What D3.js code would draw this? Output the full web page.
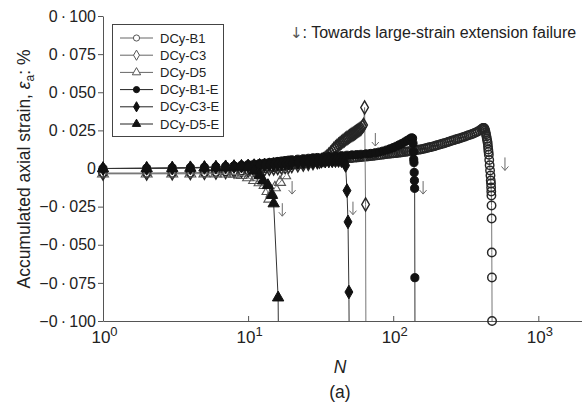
<!DOCTYPE html>
<html>
<head>
<meta charset="utf-8">
<script src="https://cdn.jsdelivr.net/npm/d3@7"></script>
<style>
  body { margin: 0; background: #fff; }
  svg { display: block; font-family: "Liberation Sans", Arial, sans-serif; }
</style>
</head>
<body>
<svg id="chart" width="582" height="408"></svg>
<script>
// each series: [N, accumulated axial strain in %]
const b1 = [
  [1,-0.0030],[2,-0.0030],[3,-0.0029],[4,-0.0028],[5,-0.0026],[6,-0.0023],[7,-0.0020],[8,-0.0016],
  [9,-0.0013],[10,-0.0010],[11,-0.0006],[12,-0.0003],[13,0.0001],[14,0.0004],[15,0.0008],[16,0.0011],
  [17,0.0015],[18,0.0018],[19,0.0022],[20,0.0025],[21,0.0027],[22,0.0029],[23,0.0031],[24,0.0033],[25,0.0035],
  [26,0.0037],[27,0.0039],[28,0.0041],[29,0.0043],[30,0.0045],[31,0.0046],[32,0.0047],[33,0.0049],[34,0.0050],
  [35,0.0051],[36,0.0052],[37,0.0054],[38,0.0055],[39,0.0057],[40,0.0058],[41,0.0059],[42,0.0060],[43,0.0061],
  [44,0.0062],[45,0.0063],[46,0.0064],[47,0.0065],[48,0.0066],[50,0.0068],[52,0.0069],[54,0.0071],[56,0.0072],
  [58,0.0074],[60,0.0075],[62,0.0076],[64,0.0078],[66,0.0079],[68,0.0080],[70,0.0082],[72,0.0083],[74,0.0084],
  [77,0.0086],[80,0.0088],[83,0.0090],[86,0.0092],[89,0.0094],[92,0.0096],[95,0.0097],[98,0.0099],
  [100,0.0100],[103,0.0101],[106,0.0102],[109,0.0104],[112,0.0105],[115,0.0107],[118,0.0108],[122,0.0110],
  [125,0.0111],[129,0.0113],[133,0.0115],[137,0.0117],[141,0.0119],[145,0.0121],[149,0.0123],[154,0.0125],
  [158,0.0127],[163,0.0130],[168,0.0133],[173,0.0136],[178,0.0139],[183,0.0141],[189,0.0145],[194,0.0148],
  [200,0.0152],[206,0.0155],[212,0.0159],[218,0.0162],[225,0.0166],[232,0.0170],[239,0.0174],[246,0.0178],
  [253,0.0182],[261,0.0186],[269,0.0190],[277,0.0193],[285,0.0197],[294,0.0201],[302,0.0205],[311,0.0209],
  [321,0.0214],[330,0.0218],[340,0.0222],[350,0.0226],[361,0.0231],[372,0.0237],[383,0.0243],[394,0.0250],
  [405,0.0257],[412,0.0263],[417,0.0266],[421,0.0266],[424,0.0264],[427,0.0258],[430,0.0250],[433,0.0238],
  [436,0.0225],[439,0.0210],[442,0.0195],[445,0.0180],[448,0.0165],[450,0.0145],[452,0.0125],[454,0.0108],
  [456,0.0090],[459,0.0055],[462,0.0022],[465,-0.0013],[468,-0.0046],[470,-0.0079],[472,-0.0098],
  [473,-0.0125],[474,-0.0151],[475,-0.0177],[476,-0.0243],[477,-0.0328],[478,-0.0551],[479,-0.0715],[480,-0.1000]
];
const c3 = [
  [1,-0.0032],[2,-0.0032],[3,-0.0031],[4,-0.0030],[5,-0.0028],[6,-0.0026],[7,-0.0023],[8,-0.0020],
  [9,-0.0017],[10,-0.0014],[11,-0.0011],[12,-0.0008],[13,-0.0005],[14,-0.0002],[15,0.0001],[16,0.0004],
  [17,0.0007],[18,0.0010],[19,0.0013],[20,0.0016],[22,0.0021],[24,0.0026],[26,0.0031],[28,0.0036],
  [30,0.0042],[31,0.0046],[32,0.0052],[33,0.0059],[34,0.0068],[35,0.0078],[36,0.0090],[37,0.0102],[38,0.0115],
  [39,0.0127],[40,0.0138],[41,0.0147],[42,0.0156],[43,0.0164],[44,0.0172],[45,0.0179],[46,0.0186],[47,0.0193],
  [48,0.0199],[49,0.0205],[50,0.0211],[51,0.0217],[52,0.0222],[53,0.0227],[54,0.0232],[55,0.0237],[56,0.0242],
  [57,0.0247],[58,0.0252],[59,0.0257],[60,0.0262],[61.5,0.0275],[62.5,0.0285],[63.5,0.0400],[64.5,-0.0236],[65,-0.1500]
];
const d5 = [
  [1,-0.0035],[2,-0.0035],[3,-0.0035],[4,-0.0035],[5,-0.0034],[6,-0.0034],[7,-0.0035],[8,-0.0037],
  [9,-0.0045],[10,-0.0060],[11,-0.0078],[12,-0.0092],[13,-0.0110],[13.6,-0.0150],[14,-0.0200],
  [14.5,-0.0165],[15.3,-0.0125],[16.6,-0.0090],[18,-0.0046]
];
const b1e = [
  [1,0.0000],[2,0.0002],[3,0.0004],[4,0.0006],[5,0.0008],[6,0.0011],[7,0.0014],[8,0.0017],
  [9,0.0021],[10,0.0025],[11,0.0028],[12,0.0032],[13,0.0035],[14,0.0039],[15,0.0042],[16,0.0046],
  [17,0.0049],[18,0.0052],[19,0.0055],[20,0.0057],[22,0.0061],[24,0.0064],[26,0.0067],[28,0.0070],
  [30,0.0072],[33,0.0075],[36,0.0078],[40,0.0081],[44,0.0084],[48,0.0087],[52,0.0089],[56,0.0091],
  [60,0.0093],[65,0.0096],[70,0.0099],[75,0.0103],[80,0.0108],[85,0.0114],[90,0.0121],[95,0.0129],
  [100,0.0137],[105,0.0146],[110,0.0155],[115,0.0164],[120,0.0174],[125,0.0184],[130,0.0194],[134,0.0201],
  [136,0.0198],[137,0.0165],[138,0.0110],[138.5,0.0060],[139,0.0039],[139.5,-0.0026],[140,-0.0079],
  [140.5,-0.0130],[141,-0.0716],[141.5,-0.1500]
];
const c3e = [
  [1,0.0000],[2,0.0001],[3,0.0003],[4,0.0005],[5,0.0007],[6,0.0009],[7,0.0011],[8,0.0013],
  [9,0.0015],[10,0.0017],[11,0.0019],[12,0.0021],[13,0.0023],[14,0.0025],[15,0.0027],[16,0.0029],
  [17,0.0031],[18,0.0032],[19,0.0034],[20,0.0035],[22,0.0038],[24,0.0040],[26,0.0042],[28,0.0044],
  [30,0.0046],[32,0.0047],[34,0.0048],[36,0.0049],[38,0.0050],[40,0.0051],[42,0.0052],[44,0.0051],
  [46,0.0045],[47,0.0020],[48,-0.0145],[48.8,-0.0350],[49.5,-0.0810],[50,-0.1500]
];
const d5e = [
  [1,0.0000],[2,0.0001],[3,0.0002],[4,0.0003],[5,0.0005],[6,0.0007],[7,0.0009],[8,0.0011],
  [9,0.0012],[10,0.0008],[11,-0.0015],[12,-0.0045],[12.7,-0.0080],[13.7,-0.0110],[14.6,-0.0175],
  [15,-0.0230],[16.1,-0.0847],[16.3,-0.1500]
];

const seriesNames = ["DCy-B1", "DCy-C3", "DCy-D5", "DCy-B1-E", "DCy-C3-E", "DCy-D5-E"];
const seriesData = [b1, c3, d5, b1e, c3e, d5e];

// arrows marking the large-strain extension failure of each test
const arrowMarks = [[589, 0.0030], [75.3, 0.0190], [20.1, -0.0125], [160.7, -0.0125], [52.8, -0.0260], [17.2, -0.0270]];

const yTicks = [0.1, 0.075, 0.05, 0.025, 0, -0.025, -0.05, -0.075, -0.1];
const yTickLabels = ["0·100", "0·075", "0·050", "0·025", "0", "\u22120·025", "\u22120·050", "\u22120·075", "\u22120·100"];
const xTicks = [1, 10, 100, 1000];
const xTickExponents = ["0", "1", "2", "3"];

const svg = d3.select("#chart");
const x = d3.scaleLog().domain([1, 2000]).range([103, 582]);
const y = d3.scaleLinear().domain([-0.1, 0.1]).range([321, 16]);

const symbols = [d3.symbolCircle, d3.symbolDiamond, d3.symbolTriangle, d3.symbolCircle, d3.symbolDiamond, d3.symbolTriangle];
const symbolSizes = [56, 50, 52, 52, 54, 56];
const markerStroke = ["#262626", "#262626", "#555", "#111", "#111", "#111"];
const markerStrokeWidth = [1.45, 1.45, 1.1, 1, 1, 1];
const isOpen = i => i < 3;

svg.append("clipPath").attr("id", "plotclip")
  .append("rect").attr("x", 103).attr("y", 0).attr("width", 479).attr("height", 321);

// axes
const yAxis = svg.append("g")
  .attr("transform", "translate(103,0)")
  .call(d3.axisLeft(y).tickValues(yTicks).tickSize(5).tickSizeOuter(0).tickPadding(2)
    .tickFormat((d, i) => yTickLabels[i].replace("·", "\u2009·\u2009")));
yAxis.selectAll("text").attr("font-size", 16).attr("fill", "#222").attr("font-family", null);

const xAxis = svg.append("g")
  .attr("transform", "translate(0,321)")
  .call(d3.axisBottom(x).tickValues(xTicks).tickSize(-5).tickSizeOuter(0).tickFormat(""));
xAxis.selectAll(".tick").each(function(d, i) {
  const t = d3.select(this).append("text")
    .attr("x", 1).attr("y", 22).attr("fill", "#222").attr("font-size", 17)
    .attr("text-anchor", "middle").attr("font-family", null);
  t.append("tspan").text("10");
  t.append("tspan").attr("dy", -7).attr("font-size", 13).text(xTickExponents[i]);
});
svg.selectAll(".domain, .tick line").attr("stroke", "#555");

// series: open markers pile up into a solid band where cycles are dense
const line = d3.line().x(d => x(d[0])).y(d => y(d[1]));
const plot = svg.append("g");
seriesData.forEach((data, i) => {
  plot.append("path")
    .attr("clip-path", "url(#plotclip)")
    .attr("d", line(data))
    .attr("fill", "none")
    .attr("stroke", isOpen(i) ? "#777" : "#333")
    .attr("stroke-width", 1);
  plot.selectAll(null)
    .data(data.filter(d => d[1] >= -0.1 && d[1] <= 0.1))
    .join("path")
    .attr("transform", d => `translate(${x(d[0])},${y(d[1])})`)
    .attr("d", d3.symbol(symbols[i], symbolSizes[i]))
    .attr("fill", isOpen(i) ? "none" : "#111")
    .attr("stroke", markerStroke[i])
    .attr("stroke-width", markerStrokeWidth[i]);
});

// failure arrows
const arrows = svg.append("g").attr("stroke", "#6a6a6a").attr("fill", "none").attr("stroke-width", 1);
arrows.selectAll("path")
  .data(arrowMarks)
  .join("path")
  .attr("transform", d => `translate(${x(d[0])},${y(d[1])})`)
  .attr("d", "M0,-6.5V6.5M-3.5,2.5L0,6.5L3.5,2.5");

const note = svg.append("text")
  .attr("x", 290).attr("y", 38)
  .attr("font-size", 16).attr("fill", "#222");
note.append("tspan").attr("font-family", "DejaVu Sans").attr("font-size", 15).attr("fill", "#555").text("\u2193");
note.append("tspan").text(": Towards large-strain extension failure");

// legend
const legend = svg.append("g");
legend.append("rect")
  .attr("x", 112.5).attr("y", 24.5).attr("width", 111).attr("height", 112)
  .attr("fill", "#fff").attr("stroke", "#444");
seriesNames.forEach((name, i) => {
  const ly = 38 + i * 17.2;
  legend.append("line").attr("x1", 120).attr("x2", 153).attr("y1", ly).attr("y2", ly)
    .attr("stroke", isOpen(i) ? "#666" : "#222");
  legend.append("path")
    .attr("transform", `translate(136.5,${ly})`)
    .attr("d", d3.symbol(symbols[i], 30))
    .attr("fill", isOpen(i) ? "#fff" : "#111")
    .attr("stroke", isOpen(i) ? "#555" : "#111");
  legend.append("text").attr("x", 160).attr("y", ly + 4.5)
    .attr("font-size", 13).attr("fill", "#222").text(name);
});

// axis titles
const yTitle = svg.append("text")
  .attr("transform", "translate(30,169) rotate(-90)")
  .attr("text-anchor", "middle").attr("font-size", 17.5).attr("fill", "#222");
yTitle.append("tspan").text("Accumulated axial strain, ");
yTitle.append("tspan").attr("font-style", "italic").text("\u03b5");
yTitle.append("tspan").attr("font-size", 12).attr("dy", 4).text("a");
yTitle.append("tspan").attr("dy", -4).text(": %");

svg.append("text").attr("x", 340).attr("y", 373)
  .attr("text-anchor", "middle").attr("font-size", 17.5).attr("font-style", "italic").attr("fill", "#222")
  .text("N");
svg.append("text").attr("x", 340).attr("y", 398)
  .attr("text-anchor", "middle").attr("font-size", 17.5).attr("fill", "#222")
  .text("(a)");
</script>
</body>
</html>
